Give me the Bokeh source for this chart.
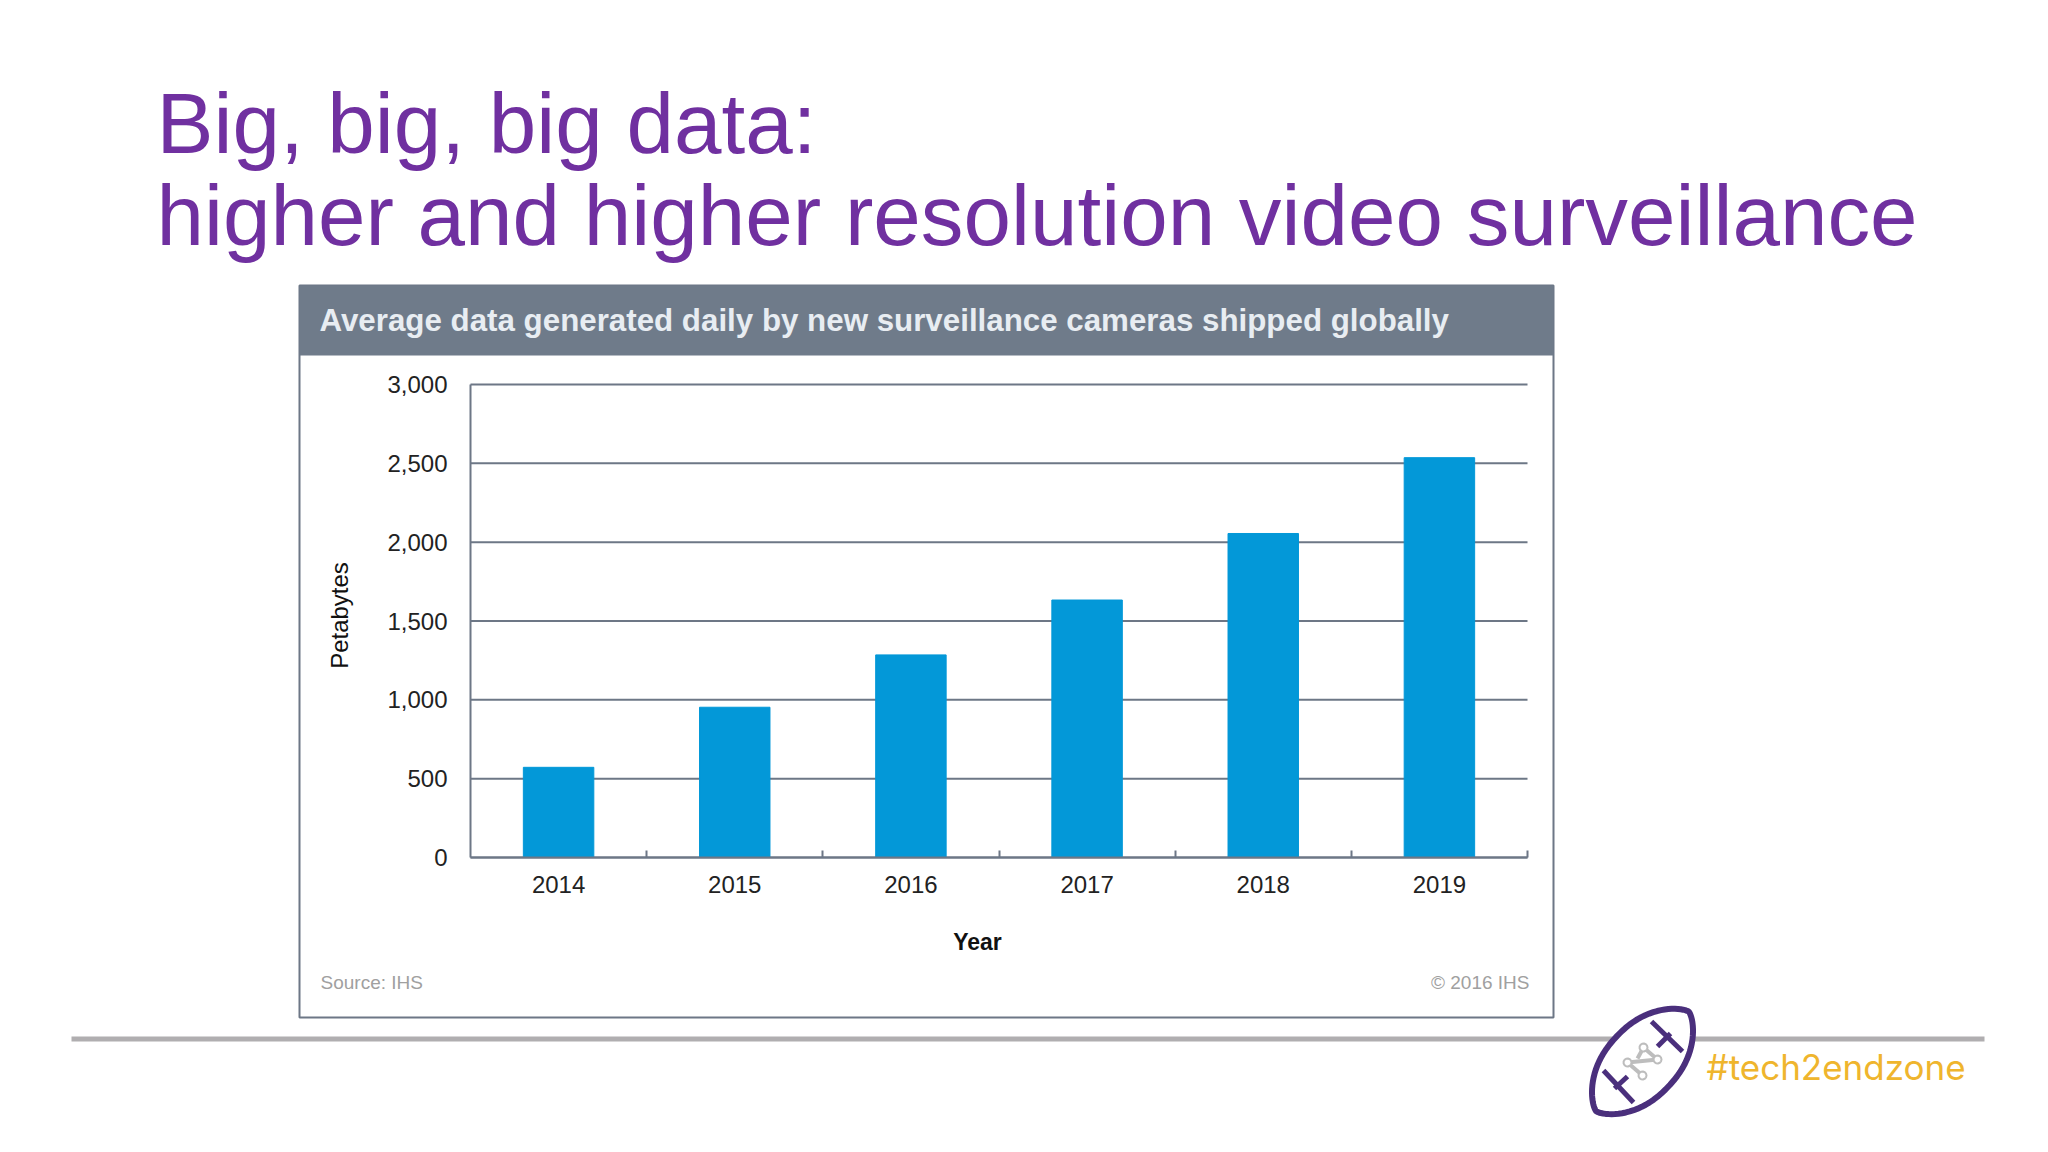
import numpy as np
from bokeh.plotting import figure
from bokeh.models import (Range1d, FixedTicker, NumeralTickFormatter, Label, BoxAnnotation,
                          PolyAnnotation, ColumnDataSource, LinearAxis)
from bokeh.embed import file_html
from bokeh.resources import INLINE

years = ["2014", "2015", "2016", "2017", "2018", "2019"]
petabytes = [572, 953, 1285, 1633, 2055, 2536]
y_ticks = [0, 500, 1000, 1500, 2000, 2500, 3000]
title_lines = ["Big, big, big data:", "higher and higher resolution video surveillance"]
chart_title = "Average data generated daily by new surveillance cameras shipped globally"

W, H = 2032, 1136
FRAME = dict(left=470, right=1527, top=384, bottom=857)
SLATE = "#6d7786"

# The frame fills the whole page, because annotations are clipped to it; the ranges are chosen so
# that x=-0.5..5.5 and y=0..3000 land on the chart's plot area.
ux = (FRAME["right"] - FRAME["left"]) / len(years)
uy = (FRAME["bottom"] - FRAME["top"]) / y_ticks[-1]
x_range = Range1d(-0.5 - FRAME["left"] / ux, -0.5 + (W - FRAME["left"]) / ux)
y_range = Range1d(-(H - FRAME["bottom"]) / uy, FRAME["bottom"] / uy)

p = figure(width=W, height=H, output_backend="svg", toolbar_location=None,
           x_range=x_range, y_range=y_range, x_axis_location=None, y_axis_location=None,
           min_border=0, outline_line_color=None, background_fill_color="white", border_fill_color="white")
p.grid.visible = False

x0, x1 = -0.5, len(years) - 0.5
xs = list(range(len(years)))
p.segment(x0=[x0] * len(y_ticks), x1=[x1] * len(y_ticks), y0=y_ticks, y1=y_ticks,
          line_color=SLATE, line_width=2)
src = ColumnDataSource(dict(x=xs, top=petabytes))
p.vbar(x="x", top="top", bottom=0, width=0.40, color="#0398d8", source=src)

ax = LinearAxis(fixed_location=0, bounds=(x0, x1))
ax.ticker = FixedTicker(ticks=xs, minor_ticks=[i + 0.5 for i in xs])
ax.major_label_overrides = {i: y for i, y in zip(xs, years)}
ax.major_tick_line_color = None
ax.minor_tick_line_color = SLATE
ax.minor_tick_line_width = 2
ax.minor_tick_in = 7
ax.minor_tick_out = 0
ax.axis_line_color = SLATE
ax.axis_line_width = 2
ax.major_label_text_font = "Liberation Sans"
ax.major_label_text_font_size = "24px"
ax.major_label_text_color = "#222222"
ax.major_label_standoff = 12
p.add_layout(ax, "below")

ay = LinearAxis(fixed_location=x0, bounds=(0, y_ticks[-1]))
ay.ticker = FixedTicker(ticks=y_ticks)
ay.formatter = NumeralTickFormatter(format="0,0")
ay.major_tick_line_color = None
ay.minor_tick_line_color = None
ay.axis_line_color = SLATE
ay.axis_line_width = 2
ay.major_label_text_font = "Liberation Sans"
ay.major_label_text_font_size = "24px"
ay.major_label_text_color = "#222222"
ay.major_label_standoff = 17
p.add_layout(ay, "left")


def sx(v):
    return float(v)


def sy(v):
    return H - float(v)


def text(s, x, y, size, color, style="normal", font="Liberation Sans", align="left", baseline="alphabetic", angle=0.0):
    p.add_layout(Label(x=sx(x), y=sy(y), x_units="screen", y_units="screen", text=s, angle=angle,
                       text_font=font, text_font_size=f"{size}px", text_color=color,
                       text_font_style=style, text_align=align, text_baseline=baseline))


def box(l, r, t, b, fill=None, line=None, lw=2):
    p.add_layout(BoxAnnotation(left=sx(l), right=sx(r), top=sy(t), bottom=sy(b),
                               left_units="screen", right_units="screen", top_units="screen", bottom_units="screen",
                               fill_color=fill or "white", fill_alpha=1 if fill else 0,
                               line_color=line or "white", line_alpha=1 if line else 0, line_width=lw))


def poly(px, py, line, lw, fill=None):
    p.add_layout(PolyAnnotation(xs=[sx(v) for v in px], ys=[sy(v) for v in py],
                                xs_units="screen", ys_units="screen",
                                line_color=line, line_alpha=1, line_width=lw, fill_color=fill or "white",
                                fill_alpha=1 if fill else 0))


# slide title
text(title_lines[0], 156, 123, 85.4, "#7030a0")
text(title_lines[1], 156, 215, 85.4, "#7030a0")

# chart panel
box(299, 1553, 285, 1017, line=SLATE, lw=2)
box(299, 1553, 285, 355, fill="#6f7b8a")
text(chart_title, 319, 320, 31.3, "#e8edf2", style="bold")
text("Year", 977, 941, 23, "#111111", style="bold", align="center")
text("Petabytes", 339, 615, 24, "#111111", align="center", baseline="middle", angle=np.pi / 2)
text("Source: IHS", 320, 982, 19, "#a0a0a0")
text("\u00a9 2016 IHS", 1529, 982, 19, "#a0a0a0", align="right")

# footer rule
box(71, 1984, 1036, 1041, fill="#b0aeb0")

# football logo
cx, cy = 1642, 1061
ang = np.radians(-47)
L, Wd = 68, 36
t = np.linspace(0, 2 * np.pi, 90)
u = L * np.sign(np.cos(t)) * np.abs(np.cos(t)) ** 0.9
v = Wd * np.sign(np.sin(t)) * np.abs(np.sin(t)) ** 1.45
fx = cx + u * np.cos(ang) - v * np.sin(ang)
fy = cy + u * np.sin(ang) + v * np.cos(ang)
PURPLE = "#4a2f7c"
poly(list(fx), list(fy), PURPLE, 6, fill="white")
for a, b, c, d in [(1651, 1021, 1682, 1051), (1603, 1070, 1633, 1102), (1670, 1033, 1657, 1046), (1627, 1076, 1614, 1088)]:
    poly([a, c], [b, d], PURPLE, 5)
GR = "#bdbdbd"
nodes = [(1643, 1047), (1657, 1059), (1627, 1062), (1642, 1075)]
for (a, b), (c, d) in [(nodes[0], nodes[1]), (nodes[2], nodes[3]), (nodes[1], nodes[2]), (nodes[0], (1637, 1058))]:
    poly([a, c], [b, d], GR, 4)
for a, b in nodes:
    tt = np.linspace(0, 2 * np.pi, 14)
    poly(list(a + 4 * np.cos(tt)), list(b + 4 * np.sin(tt)), GR, 2, fill="white")

text("#tech2endzone", 1706, 1066, 35, "#efb52d", style="normal", font="Inter")

open("out.html", "w").write(file_html(p, INLINE))
